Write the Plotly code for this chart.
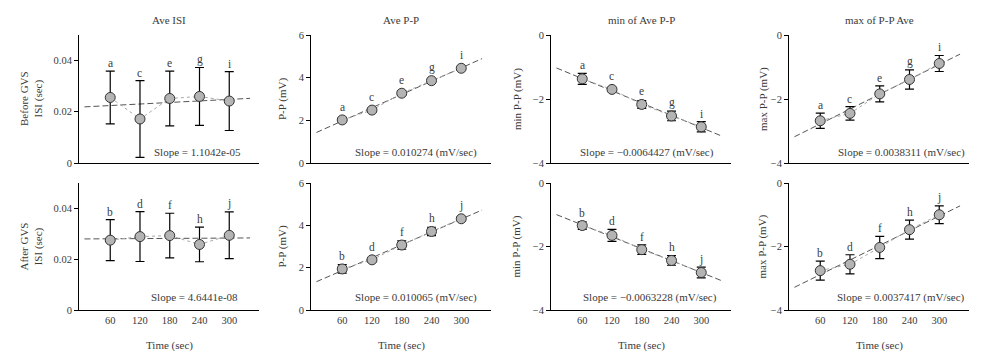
import plotly.graph_objects as go
import numpy as np

# ---------------- data ----------------
time_s = [60, 120, 180, 240, 300]
labels_before = ["a", "c", "e", "g", "i"]
labels_after = ["b", "d", "f", "h", "j"]

isi_before = [0.0256, 0.0172, 0.0252, 0.0260, 0.0242]
isi_before_err = [0.0103, 0.0150, 0.0107, 0.0113, 0.0115]
pp_before = [2.02, 2.48, 3.27, 3.86, 4.44]
pp_before_err = [0.08, 0.08, 0.10, 0.10, 0.08]
min_before = [-1.37, -1.70, -2.17, -2.53, -2.87]
min_before_err = [0.17, 0.06, 0.12, 0.15, 0.16]
max_before = [-2.68, -2.45, -1.84, -1.39, -0.89]
max_before_err = [0.24, 0.21, 0.25, 0.30, 0.25]

isi_after = [0.0275, 0.0289, 0.0293, 0.0258, 0.0294]
isi_after_err = [0.0081, 0.0098, 0.0088, 0.0068, 0.0092]
pp_after = [1.94, 2.37, 3.07, 3.71, 4.31]
pp_after_err = [0.20, 0.10, 0.20, 0.20, 0.10]
min_after = [-1.34, -1.65, -2.10, -2.44, -2.82]
min_after_err = [0.12, 0.19, 0.15, 0.15, 0.17]
max_after = [-2.76, -2.56, -2.03, -1.47, -1.00]
max_after_err = [0.30, 0.30, 0.35, 0.30, 0.28]

slope_before = ["1.1042e-05", "0.010274 (mV/sec)", "\u22120.0064427 (mV/sec)", "0.0038311 (mV/sec)"]
slope_after = ["4.6441e-08", "0.010065 (mV/sec)", "\u22120.0063228 (mV/sec)", "0.0037417 (mV/sec)"]
panel_titles = ["Ave ISI", "Ave P-P", "min of Ave P-P", "max of P-P Ave"]
ytitles_before = ["Before GVS<br>ISI (sec)", "P-P (mV)", "min P-P (mV)", "max P-P (mV)"]
ytitles_after = ["After GVS<br>ISI (sec)", "P-P (mV)", "min P-P (mV)", "max P-P (mV)"]
x_title = "Time (sec)"
fit_span = [8, 342]

y_ranges = [[0, 0.05], [0, 6], [-4, 0], [-4, 0]]
y_ticks = [[0, 0.02, 0.04], [0, 2, 4, 6], [-4, -2, 0], [-4, -2, 0]]
y_ticktext = [["0", "0.02", "0.04"], ["0", "2", "4", "6"], ["\u22124", "\u22122", "0"], ["\u22124", "\u22122", "0"]]

rows = [
    dict(vals=[isi_before, pp_before, min_before, max_before],
         errs=[isi_before_err, pp_before_err, min_before_err, max_before_err],
         labels=labels_before, slopes=slope_before, ytitles=ytitles_before),
    dict(vals=[isi_after, pp_after, min_after, max_after],
         errs=[isi_after_err, pp_after_err, min_after_err, max_after_err],
         labels=labels_after, slopes=slope_after, ytitles=ytitles_after),
]

# ---------------- layout geometry (page pixels) ----------------
OFF = 8                      # default page body margin
W, H = 981 - 2 * OFF, 362 - 2 * OFF
col_left = [79, 311, 551, 789]
col_w = 180
row_px = [(35, 163), (183, 310)]
slope_right = [[243, 479, 716, 967], [240, 479, 719, 967]]
slope_y = [152, 297]
ytitle_x = [[31, 282, 517, 763], [31, 282, 516, 762]]


def px(v):
    return (v - OFF) / W


def py(v):
    return 1 - (v - OFF) / H


FONT = "Liberation Serif"
TXT = "#3a3a3a"

fig = go.Figure()
annotations = []
layout_axes = {}

for r, row in enumerate(rows):
    top, bot = row_px[r]
    for c in range(4):
        idx = r * 4 + c + 1
        xa = "x" if idx == 1 else f"x{idx}"
        ya = "y" if idx == 1 else f"y{idx}"
        xname = "xaxis" if idx == 1 else f"xaxis{idx}"
        yname = "yaxis" if idx == 1 else f"yaxis{idx}"
        vals = row["vals"][c]
        errs = row["errs"][c]

        layout_axes[xname] = dict(
            domain=[px(col_left[c]), px(col_left[c] + col_w)],
            anchor=ya, range=[-3, 360], showgrid=False, zeroline=False,
            showline=True, linecolor="black", linewidth=1,
            tickvals=time_s, ticks="", showticklabels=(r == 1),
            tickfont=dict(family=FONT, size=10.5, color=TXT), automargin=False,
        )
        layout_axes[yname] = dict(
            domain=[py(bot), py(top)],
            anchor=xa, range=y_ranges[c], showgrid=False, zeroline=False,
            showline=True, linecolor="black", linewidth=1,
            tickvals=y_ticks[c], ticktext=y_ticktext[c],
            ticks="outside", ticklen=4, tickcolor="black",
            tickfont=dict(family=FONT, size=10.5, color=TXT), automargin=False,
        )

        # regression line
        k, b0 = np.polyfit(time_s, vals, 1)
        fig.add_trace(go.Scatter(
            x=fit_span, y=[k * fit_span[0] + b0, k * fit_span[1] + b0],
            mode="lines", line=dict(color="#555555", width=1, dash="6px,3px"),
            xaxis=xa, yaxis=ya, showlegend=False, hoverinfo="skip"))
        # dotted connection
        fig.add_trace(go.Scatter(
            x=time_s, y=vals, mode="lines",
            line=dict(color="#aaaaaa", width=1, dash="dot"),
            xaxis=xa, yaxis=ya, showlegend=False, hoverinfo="skip"))
        # points with error bars
        fig.add_trace(go.Scatter(
            x=time_s, y=vals, mode="markers",
            marker=dict(size=10, color="#b4b4b4", line=dict(color="#333333", width=1)),
            error_y=dict(type="data", array=errs, color="black", thickness=1.2, width=4.5),
            xaxis=xa, yaxis=ya, showlegend=False))

        # letter labels
        px_per_unit = (bot - top) / (y_ranges[c][1] - y_ranges[c][0])
        for xv, yv, ev, lab in zip(time_s, vals, errs, row["labels"]):
            shift = max(ev * px_per_unit, 5) + 8
            annotations.append(dict(
                x=xv, y=yv, xref=xa, yref=ya, text=lab, showarrow=False,
                yshift=shift, yanchor="middle",
                font=dict(family=FONT, size=11.5, color=TXT)))

        # slope text
        annotations.append(dict(
            x=px(slope_right[r][c]), y=py(slope_y[r]), xref="paper", yref="paper",
            xanchor="right", yanchor="middle", showarrow=False,
            text="Slope = " + row["slopes"][c],
            font=dict(family=FONT, size=11, color=TXT)))

        # y title
        annotations.append(dict(
            x=px(ytitle_x[r][c]), y=py((top + bot) / 2), xref="paper", yref="paper",
            xanchor="center", yanchor="middle", showarrow=False, textangle=-90,
            text=row["ytitles"][c],
            font=dict(family=FONT, size=11, color=TXT)))

        if r == 0:
            annotations.append(dict(
                x=px(col_left[c] + col_w / 2), y=py(20), xref="paper", yref="paper",
                xanchor="center", yanchor="middle", showarrow=False,
                text=panel_titles[c], font=dict(family=FONT, size=11, color=TXT)))
        else:
            annotations.append(dict(
                x=px(col_left[c] + col_w / 2), y=py(345), xref="paper", yref="paper",
                xanchor="center", yanchor="middle", showarrow=False,
                text=x_title, font=dict(family=FONT, size=11, color=TXT)))

fig.update_layout(
    width=W, height=H,
    margin=dict(l=0, r=0, t=0, b=0),
    paper_bgcolor="white", plot_bgcolor="white",
    font=dict(family=FONT, size=11, color=TXT),
    annotations=annotations,
    **layout_axes,
)

fig.write_html("out.html")
